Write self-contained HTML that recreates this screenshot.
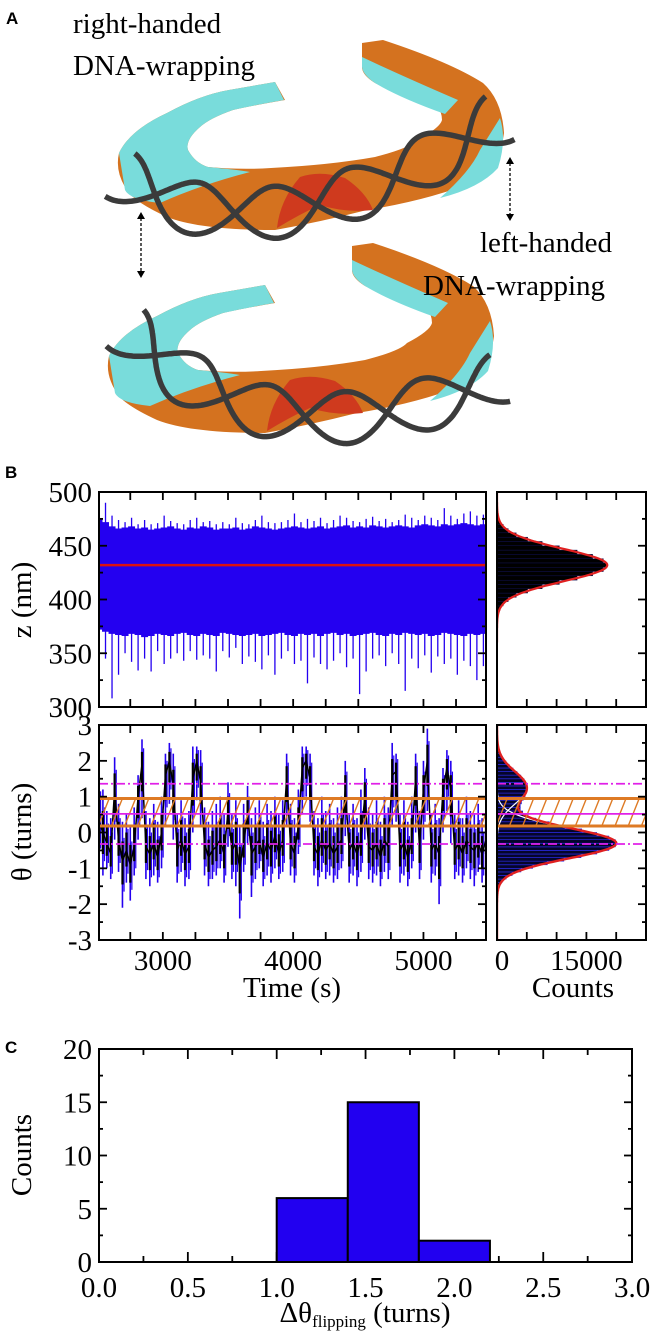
<!DOCTYPE html>
<html><head><meta charset="utf-8"><style>
html,body{margin:0;padding:0;background:#fff;}
svg{display:block;}
text{font-family:"Liberation Serif",serif;fill:#000;}
.lbl{font-family:"Liberation Sans",sans-serif;font-weight:bold;font-size:17px;}
</style></head><body>
<svg id="fig" width="651" height="1342" viewBox="0 0 651 1342" xmlns="http://www.w3.org/2000/svg">
<defs>
<clipPath id="clipZ"><rect x="99" y="492" width="387" height="215"/></clipPath>
<clipPath id="clipT"><rect x="99" y="725" width="387" height="215"/></clipPath>
<clipPath id="clipHZ"><rect x="497" y="492" width="149" height="215"/></clipPath>
<clipPath id="clipHT"><rect x="497" y="725" width="149" height="215"/></clipPath>
</defs>

<!-- Panel A -->
<g>
<g id="ringTop">
<path d="M362,43 L383,40 Q450,62 483,83 Q502,100 504,133 Q500,165 479,180 Q430,200 367,210 Q320,222 275,230 Q200,230 167,217 Q130,200 125,187 Q115,170 119,153 Q130,130 167,113 Q200,95 229,90 L275,82 L285,100 Q250,106 233,110 Q210,118 200,127 Q185,140 188,150 Q195,163 208,167 Q240,170 271,168 Q330,165 375,157 Q410,148 417,140 Q440,128 442,120 Q442,112 437,107 Q400,95 375,83 Q362,75 362,67 Z" fill="#d4721f"/>
<path d="M119,153 Q130,130 167,113 Q200,95 229,90 L275,82 L284,100 Q250,106 233,110 Q210,118 200,127 Q185,140 188,150 Q195,163 208,167 Q240,170 250,172 Q200,185 160,203 Q130,200 125,190 Z" fill="#79dcdb"/>
<path d="M362,57 Q400,75 458,100 L445,114 Q400,98 375,83 Q363,75 362,67 Z" fill="#79dcdb"/>
<path d="M500,118 Q507,140 498,168 Q480,188 440,198 Q470,172 480,150 Z" fill="#79dcdb"/>
<path d="M277,228 Q280,200 300,177 Q320,170 345,178 Q366,192 373,210 Q345,213 320,205 Q300,214 277,228 Z" fill="#cf3a1e"/>
</g>
<g transform="translate(-10,203)">
<use href="#ringTop"/>
</g>
<path id="helixTop" d="" fill="none" stroke="#3b3b3b" stroke-width="5.5"/>
<path id="helixTop2" d="" fill="none" stroke="#3b3b3b" stroke-width="5.5"/>
<path id="helixBot" d="" fill="none" stroke="#3b3b3b" stroke-width="5.5"/>
<path id="helixBot2" d="" fill="none" stroke="#3b3b3b" stroke-width="5.5"/>
<g>
<line x1="141" y1="218" x2="141" y2="272" stroke="#000" stroke-width="1.3" stroke-dasharray="3,2"/>
<path d="M137,219 L141,212 L145,219 Z M137,271 L141,278 L145,271 Z" fill="#000"/>
</g>
<g>
<line x1="510" y1="163" x2="510" y2="215" stroke="#000" stroke-width="1.3" stroke-dasharray="3,2"/>
<path d="M506,164 L510,157 L514,164 Z M506,214 L510,221 L514,214 Z" fill="#000"/>
</g>
<text class="lbl" x="6" y="24">A</text>
<text x="73" y="33" font-size="29">right-handed</text>
<text x="73" y="75" font-size="29">DNA-wrapping</text>
<text x="480" y="252" font-size="29">left-handed</text>
<text x="423" y="295" font-size="29">DNA-wrapping</text>
</g>

<!-- Panel B -->
<text class="lbl" x="5" y="478">B</text>
<g id="zTrace" clip-path="url(#clipZ)"></g>
<g id="thTrace" clip-path="url(#clipT)"></g>
<g id="zHist" clip-path="url(#clipHZ)"></g>
<g id="thHist" clip-path="url(#clipHT)"></g>
<g id="overlay"></g>
<g id="axes"></g>

<text x="292" y="997" font-size="29" text-anchor="middle">Time (s)</text>
<text x="573" y="997" font-size="29" text-anchor="middle">Counts</text>
<text transform="translate(31,600) rotate(-90)" font-size="29" text-anchor="middle">z (nm)</text>
<text transform="translate(31,832) rotate(-90)" font-size="29" text-anchor="middle">θ (turns)</text>

<!-- Panel C -->
<text class="lbl" x="5" y="1053">C</text>
<g id="cBars"></g>
<text transform="translate(31,1155) rotate(-90)" font-size="29" text-anchor="middle">Counts</text>
<text x="365" y="1322" font-size="29" text-anchor="middle">Δθ<tspan font-size="17" dy="5">flipping</tspan><tspan dy="-5"> (turns)</tspan></text>
</svg>

<script>
// ---------- data ----------
const zTimes0 = 2510, zStep = 50;
const zCoreHi = [475,472,468,466,467,468,466,467,465,466,467,468,466,465,467,466,468,467,465,466,466,467,465,466,468,467,466,465,466,467,468,467,466,467,468,466,467,468,469,467,468,467,469,468,467,468,469,468,467,469,470,469,468,470,469,470,471,470,469,470];
const zMax = [497,490,478,474,472,476,470,474,470,471,478,473,471,470,474,476,472,473,470,472,470,476,471,470,474,478,472,471,472,474,480,472,475,473,476,471,474,478,476,473,472,475,477,473,475,472,474,479,476,474,478,476,474,485,478,475,480,482,478,479];
const zCoreLo = [372,370,368,367,366,368,367,365,366,368,367,366,368,369,367,366,368,367,366,369,368,367,366,367,368,366,367,368,369,367,366,368,367,368,366,368,369,367,368,366,367,368,369,367,366,368,367,369,368,367,368,366,367,369,368,367,366,368,367,368];
const zMin = [335,345,308,330,350,342,334,345,333,352,340,345,350,343,352,344,348,345,333,352,346,355,340,347,342,335,348,330,345,352,340,343,322,346,340,335,343,350,337,345,312,333,345,348,338,350,340,315,345,336,348,332,347,340,345,330,343,338,325,338];
const zMean = [432];

const thTimes0 = 2510, thStep = 30;
const thMean = [0.3,0.0,-0.3,-0.6,1.2,-0.2,-0.8,-0.5,-0.9,-0.4, 1.0,1.9,-0.4,-0.6,-0.3,-0.7,0.0,1.6,2.0,1.3, -0.5,-0.2,-0.6,-0.4,1.5,2.0,1.4,-0.3,-0.7,-0.5, -0.4,-0.2,-0.6,0.6,-0.5,-0.3,-1.0,-0.3,0.5,-0.6, -0.4,-0.2,-0.7,-0.3,-0.5,-0.1,-0.6,-0.2,1.5,-0.3, -0.6,0.2,1.8,2.0,1.5,-0.4,-0.6,-0.2,-0.5,-0.3, -0.6,-0.4,-0.2,1.2,-0.5,-0.3,-0.6,-0.2,1.0,-0.4, -0.5,-0.3,-0.7,-0.2,-0.4,1.6,1.7,-0.5,-0.3,-0.7, -0.2,1.5,-0.4,1.2,2.0,-0.5,-0.3,-0.6,1.2,1.8, 1.2,-0.5,-0.3,-0.6,-0.2,-0.4,-0.5,-0.3,-0.6,-0.2];
const thHi = [1.8,1.2,0.6,0.4,2.1,0.8,0.3,0.5,0.2,0.7, 1.6,2.6,0.6,0.4,0.8,0.3,1.0,2.2,2.5,2.2, 0.5,0.9,0.4,0.6,2.4,2.4,2.3,0.7,0.3,0.6, 0.8,1.0,0.5,1.4,0.5,0.9,0.2,0.8,1.3,0.4, 0.7,0.9,0.3,0.8,0.6,1.0,0.5,0.9,2.2,0.8, 0.4,1.2,2.4,2.4,2.2,0.6,0.4,1.0,0.6,0.8, 0.4,0.7,1.0,2.0,0.5,0.8,0.4,1.2,1.8,0.7, 0.5,0.9,0.3,1.0,0.7,2.5,2.2,0.5,0.9,0.3, 1.0,2.2,0.6,2.0,2.9,0.5,0.8,0.4,1.8,2.3, 2.0,0.5,0.9,0.4,1.0,0.6,0.5,0.8,0.4,0.9];
const thLo = [-0.8,-1.2,-1.0,-1.3,-0.2,-1.1,-2.1,-1.4,-1.9,-1.2, -0.2,0.4,-1.3,-1.5,-1.2,-1.4,-1.0,0.2,0.8,-0.2, -1.4,-1.1,-1.5,-1.3,0.0,0.9,0.2,-1.2,-1.5,-1.3, -1.2,-1.0,-1.4,-0.4,-1.3,-1.5,-2.4,-1.1,-0.3,-1.8, -1.3,-1.0,-1.5,-1.2,-1.4,-1.0,-1.3,-1.1,0.2,-1.2, -1.4,-0.6,0.5,1.0,0.3,-1.2,-1.5,-1.1,-1.3,-1.2, -1.4,-1.3,-1.0,-0.1,-1.4,-1.2,-1.5,-1.1,-0.2,-1.3, -1.4,-1.2,-1.5,-1.1,-1.3,0.2,0.3,-1.4,-1.2,-1.5, -1.0,0.0,-1.3,-0.2,0.6,-1.4,-1.2,-2.0,0.0,0.6, -0.3,-1.3,-1.2,-1.4,-1.0,-1.3,-1.5,-1.1,-1.4,-1.0];

const zBinStart = 370, zBinW = 4;
const zCounts = [6,17,46,110,250,530,1040,1890,3240,5140,7600,10470,13450,16050,17850,18500,17850,16050,13450,10470,7600,5140,3240,1890,1040,530,250,110];
const zFitAmp = [18500], zFitMu = [432], zFitSigma = [15];

const thBinStart = -1.9, thBinW = 0.1;
const thCounts = [21,50,110,230,460,860,1520,2540,4000,5970,8430,11210,14090,16730,18760,19860,19860,18760,16730,14200,11410,8760,6500,5200,4300,3900,3900,4100,4400,4700,4950,5000,4880,4530,3990,3350,2680,2040,1480,1010,660,410,250,140,75,38];
const thFitAmp = [20000,5000], thFitMu = [-0.3,1.25], thFitSigma = [0.42,0.45];
const bandRange = [0.18,0.95];
const dashLevels = [1.36,-0.32];
const midLevel = [0.52];

const cEdges = [1.0,1.4,1.8,2.2];
const cCounts = [6,15,2];

const zTicks = [300,350,400,450,500];
const thTicks = [-3,-2,-1,0,1,2,3];
const timeTicks = [3000,4000,5000];
const countTicks = [0,15000];
const cYTicks = [0,5,10,15,20];
const cXTicks = ["0.0","0.5","1.0","1.5","2.0","2.5","3.0"];

// ---------- scales ----------
const T0=2510,T1=5480, X0=99, X1=486;
const tx = t => X0 + (t-T0)/(T1-T0)*(X1-X0);
const zy = z => 707 - (z-300)/200*215;
const thy = v => 832.5 - v*35.83;
const HX0 = 497;
const hx = c => HX0 + c/5000*29.8;
const cx = v => 99 + v*177.7;
const cy = c => 1262 - c/20*213;

const NS="http://www.w3.org/2000/svg";
function mk(tag, parent, attrs){const e=document.createElementNS(NS,tag);for(const k in attrs)e.setAttribute(k,attrs[k]);parent.appendChild(e);return e;}

// ---------- helix ----------
function helix(p0,p1,p2,amp,period,phase){
  let a="",b="";
  const N=300;
  let len=0, prev=null;
  for(let i=0;i<=N;i++){
    const s=i/N;
    const x=(1-s)*(1-s)*p0[0]+2*(1-s)*s*p1[0]+s*s*p2[0];
    const y=(1-s)*(1-s)*p0[1]+2*(1-s)*s*p1[1]+s*s*p2[1];
    const dx=2*(1-s)*(p1[0]-p0[0])+2*s*(p2[0]-p1[0]);
    const dy=2*(1-s)*(p1[1]-p0[1])+2*s*(p2[1]-p1[1]);
    const L=Math.hypot(dx,dy); const nx=-dy/L, ny=dx/L;
    if(prev) len+=Math.hypot(x-prev[0],y-prev[1]); prev=[x,y];
    const w=Math.sin(2*Math.PI*len/period+phase)*amp;
    a+=(i?"L":"M")+(x+nx*w).toFixed(1)+","+(y+ny*w).toFixed(1);
    b+=(i?"L":"M")+(x-nx*w).toFixed(1)+","+(y-ny*w).toFixed(1);
  }
  return [a,b];
}
let h=helix([120,175],[265,275],[500,118],26,165,1.6);
document.getElementById('helixTop').setAttribute('d',h[0]);
document.getElementById('helixTop2').setAttribute('d',h[1]);
h=helix([125,328],[270,478],[500,378],26,165,1.6);
document.getElementById('helixBot').setAttribute('d',h[1]);
document.getElementById('helixBot2').setAttribute('d',h[0]);

// ---------- z trace ----------
const zg=document.getElementById('zTrace');
const blue="#2400f0";
zMax.forEach((v,i)=>{
  const t=zTimes0+i*zStep, x=tx(t);
  const s=mk('line',zg,{x1:x,x2:x,y1:zy(zMin[i]),y2:zy(v),stroke:blue,'stroke-width':1.3});
  
  
  const c=mk('line',zg,{x1:x,x2:x,y1:zy(zCoreLo[i]),y2:zy(zCoreHi[i]),stroke:blue,'stroke-width':7});
  
  
});
const zm=mk('line',zg,{x1:X0,x2:X1,y1:zy(zMean[0]),y2:zy(zMean[0]),stroke:"#dd1111",'stroke-width':2.5});



// ---------- theta trace ----------
const tg=document.getElementById('thTrace');
thMean.forEach((m,i)=>{
  const x=tx(thTimes0+i*thStep);
  const b=mk('line',tg,{x1:x,x2:x,y1:thy(thLo[i]),y2:thy(thHi[i]),stroke:blue,'stroke-width':1.6});
  
  
  const b2=mk('line',tg,{x1:x+1.6,x2:x+1.6,y1:thy((thLo[i]+m)/2-0.2),y2:thy((thHi[i]+m)/2+0.1),stroke:blue,'stroke-width':1.2});
  
  
  const k=mk('line',tg,{x1:x,x2:x,y1:thy((thLo[i]+m)/2),y2:thy((thHi[i]+m)/2),stroke:"#000",'stroke-width':2.2});
  
  
});
let pd="";
thMean.forEach((m,i)=>{pd+=(i?"L":"M")+tx(thTimes0+i*thStep).toFixed(1)+","+thy(m).toFixed(1);});
const tl=mk('path',tg,{d:pd,fill:"none",stroke:"#000",'stroke-width':1.5});



// ---------- histograms ----------
const hz=document.getElementById('zHist');
zCounts.forEach((c,i)=>{
  const z0=zBinStart+i*zBinW;
  const r=mk('rect',hz,{x:HX0,y:zy(z0+zBinW),width:hx(c)-HX0,height:zy(z0)-zy(z0+zBinW),fill:"#000",stroke:"#10105a",'stroke-width':0.4});
  
  
});
function gauss(v,A,M,S){let s=0;for(let k=0;k<A.length;k++)s+=A[k]*Math.exp(-(v-M[k])*(v-M[k])/(2*S[k]*S[k]));return s;}
let fz="";
for(let z=360;z<=500;z+=1){fz+=(z>360?"L":"M")+hx(gauss(z,zFitAmp,zFitMu,zFitSigma)).toFixed(1)+","+zy(z).toFixed(1);}
const fzl=mk('path',hz,{d:fz,fill:"none",stroke:"#e02020",'stroke-width':2.2});



const ht=document.getElementById('thHist');
thCounts.forEach((c,i)=>{
  const v0=thBinStart+i*thBinW;
  const r=mk('rect',ht,{x:HX0,y:thy(v0+thBinW),width:hx(c)-HX0,height:thy(v0)-thy(v0+thBinW),fill:"#05052a",stroke:"#2a2ae0",'stroke-width':0.7});
  
  
});
for(let k=0;k<thFitAmp.length;k++){
  let d="";
  for(let v=-3;v<=3;v+=0.02){d+=(v>-3?"L":"M")+hx(gauss(v,[thFitAmp[k]],[thFitMu[k]],[thFitSigma[k]])).toFixed(1)+","+thy(v).toFixed(1);}
  const c=mk('path',ht,{d:d,fill:"none",stroke:"#fff",'stroke-width':1.2});
  
  
}
let ft="";
for(let v=-3;v<=3;v+=0.02){ft+=(v>-3?"L":"M")+hx(gauss(v,thFitAmp,thFitMu,thFitSigma)).toFixed(1)+","+thy(v).toFixed(1);}
const ftl=mk('path',ht,{d:ft,fill:"none",stroke:"#e02020",'stroke-width':2.4});



// ---------- overlay: band, hatch, magenta lines ----------
const ov=document.getElementById('overlay');
const bTop=thy(bandRange[1]), bBot=thy(bandRange[0]);
[[X0,X1,'clipT'],[HX0,646,'clipHT']].forEach(([a,b,cp])=>{
  const g=mk('g',ov,{'clip-path':'url(#'+cp+')'});
  
  
  for(let x=a-14;x<b;x+=13.2){
    const l=mk('line',g,{x1:x,y1:bBot,x2:x+11,y2:bTop,stroke:"#de7a24",'stroke-width':1.4});
    
    
  }
  dashLevels.forEach(v=>{
    const l=mk('line',g,{x1:a,x2:b,y1:thy(v),y2:thy(v),stroke:"#e020e8",'stroke-width':1.8,'stroke-dasharray':'9,3,2,3'});
    
    
  });
  const m=mk('line',g,{x1:a,x2:b,y1:thy(midLevel[0]),y2:thy(midLevel[0]),stroke:"#e020e8",'stroke-width':1.8});
  
  
  [bTop,bBot].forEach(y=>{
    const l=mk('line',g,{x1:a,x2:b,y1:y,y2:y,stroke:"#de7a24",'stroke-width':3});
    
    
  });
});

// ---------- axes ----------
const ax=document.getElementById('axes');
function frame(x,y,w,h,name){
  const r=mk('rect',ax,{x:x,y:y,width:w,height:h,fill:"none",stroke:"#000",'stroke-width':2});
  
  
}
function tick(x1,y1,x2,y2){const t=mk('line',ax,{x1:x1,y1:y1,x2:x2,y2:y2,stroke:"#000",'stroke-width':1.8});
  
  }
function label(txt,x,y,anchor,parent){const t=mk('text',parent||ax,{x:x,y:y,'font-size':29,'text-anchor':anchor});t.textContent=txt;
  
  }
frame(99,492,387,215,'z-plot-frame');
frame(497,492,149,215,'z-hist-frame');
frame(99,725,387,215,'theta-plot-frame');
frame(497,725,149,215,'theta-hist-frame');
frame(99,1049,533,213,'c-plot-frame');
for(let t=2750;t<=5250;t+=250){const x=tx(t);[[492,707],[725,940]].forEach(([a,b])=>{tick(x,a,x,a+8);tick(x,b,x,b-8);});}
for(let z=300;z<=500;z+=25){const y=zy(z),L=(z%50)?4:8;tick(99,y,99+L,y);tick(486,y,486-L,y);tick(646,y,646-L,y);}
for(let v=-3;v<=3;v+=0.5){const y=thy(v),L=(v%1)?4:8;tick(99,y,99+L,y);tick(486,y,486-L,y);tick(646,y,646-L,y);}
for(let c=5000;c<25000;c+=5000){const x=hx(c);[[492,707],[725,940]].forEach(([a,b])=>{tick(x,a,x,a+8);tick(x,b,x,b-8);});}
zTicks.forEach(z=>label(String(z),92,zy(z)+10,'end'));
thTicks.forEach(v=>label(String(v),92,thy(v)+10,'end'));
timeTicks.forEach(t=>label(String(t),tx(t),970,'middle'));
countTicks.forEach(c=>label(String(c),hx(c)+(c?0:5),970,'middle'));
for(let c=0;c<=20;c+=2.5){const y=cy(c),L=(c%5)?4:8;tick(99,y,99+L,y);tick(632,y,632-L,y);}
for(let v=0.25;v<3;v+=0.25){const x=cx(v),L=(v*2%1)?6:10;tick(x,1049,x,1049+L);tick(x,1262,x,1262-L);}
cYTicks.forEach(c=>label(String(c),92,cy(c)+10,'end'));
cXTicks.forEach(s=>label(s,cx(parseFloat(s)),1297,'middle'));
const cb=document.getElementById('cBars');
cCounts.forEach((c,i)=>{
  const r=mk('rect',cb,{x:cx(cEdges[i]),y:cy(c),width:cx(cEdges[i+1])-cx(cEdges[i]),height:cy(0)-cy(c),fill:"#2200f0",stroke:"#000",'stroke-width':2});
  
  
});
</script>
</body></html>
